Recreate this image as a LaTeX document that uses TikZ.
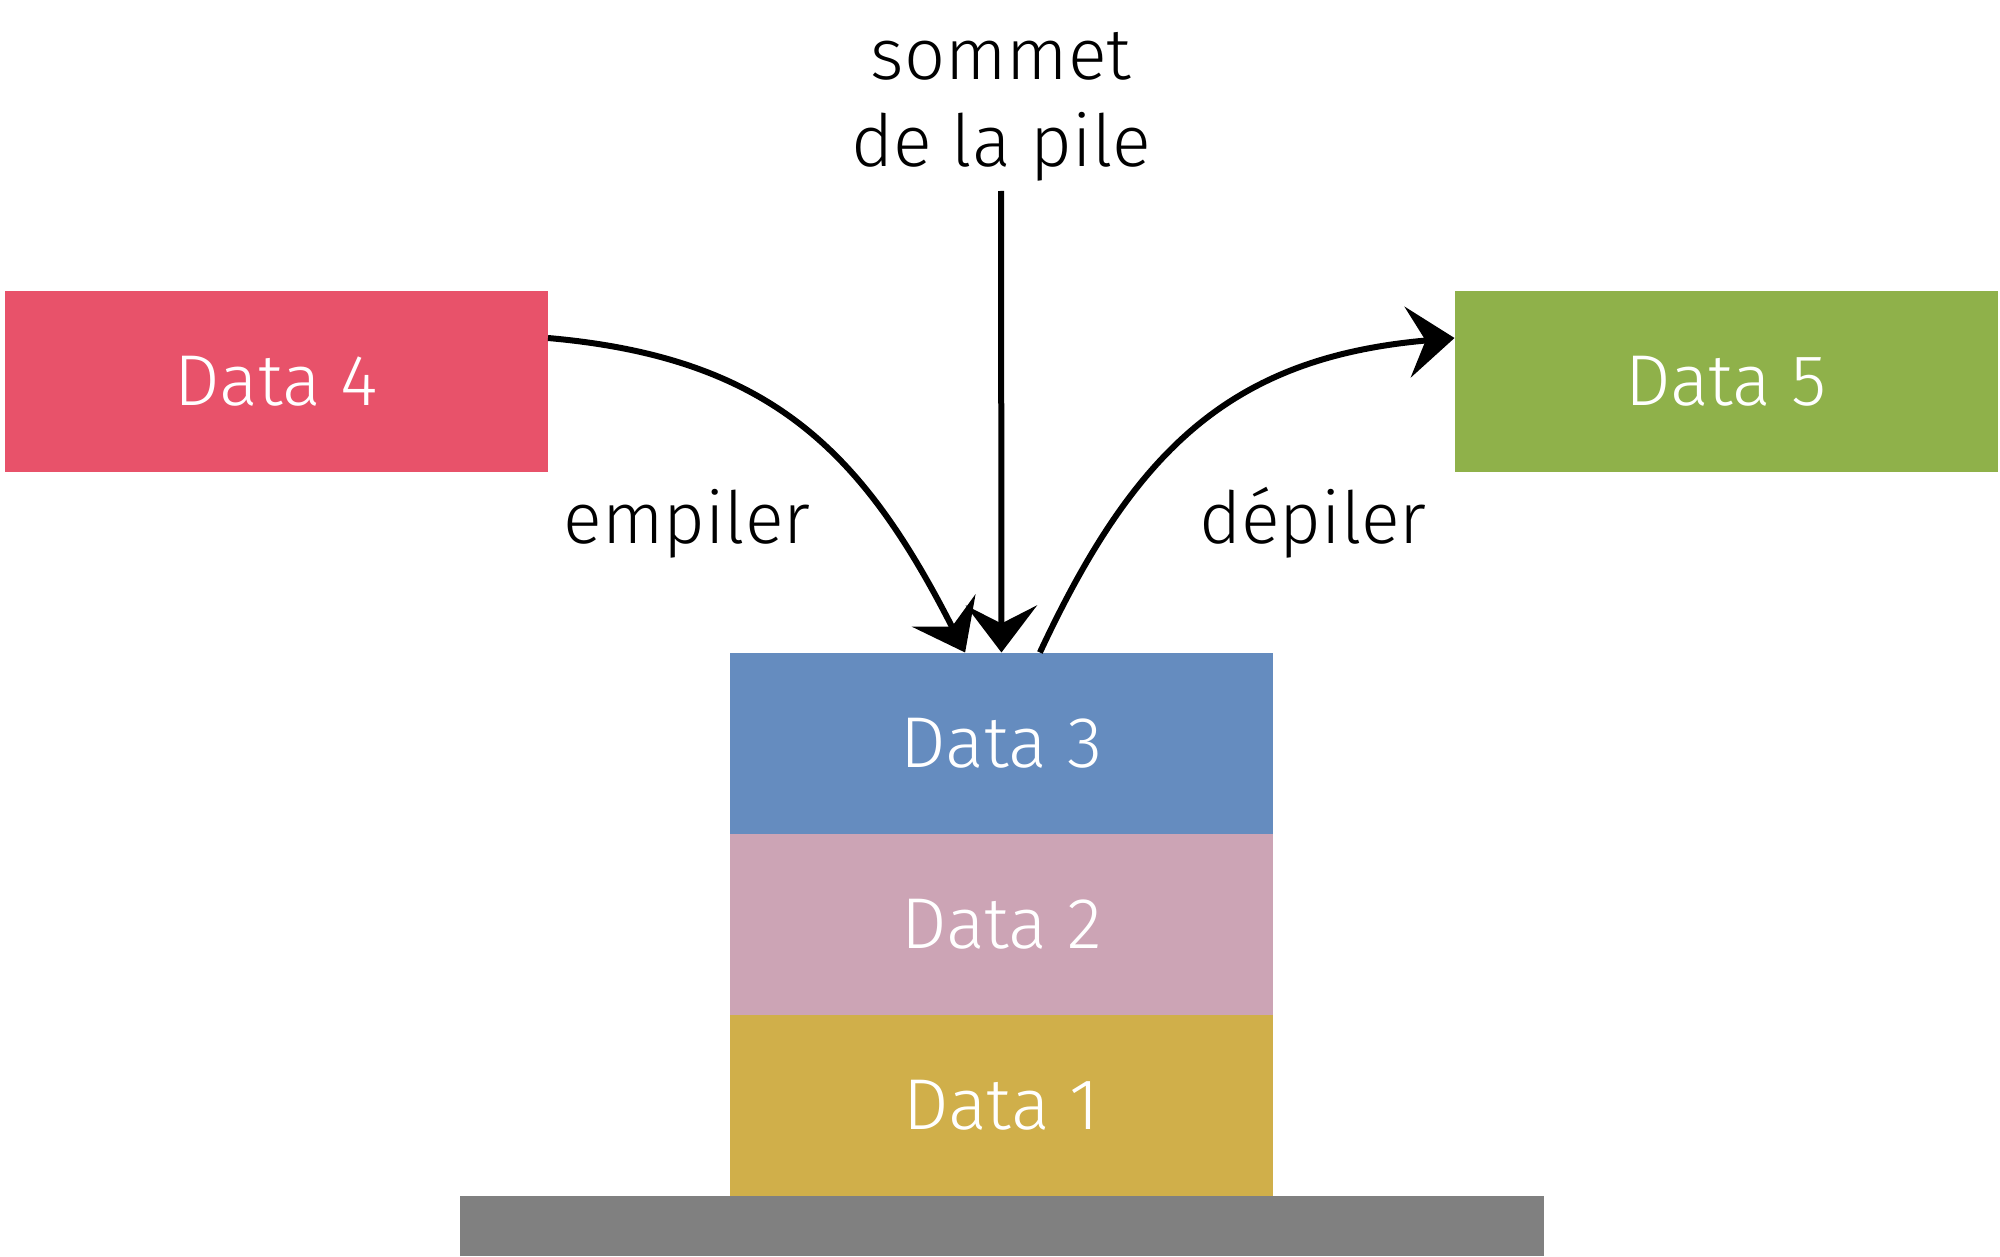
\documentclass[tikz,border=0pt]{standalone}
\usepackage{fontspec}
\IfFontExistsTF{Fira Sans Light}{\setmainfont{Fira Sans Light}}{\setmainfont{Fira Sans}}
\usetikzlibrary{arrows.meta,positioning}
\definecolor{data4}{HTML}{E8526A}
\definecolor{data5}{HTML}{8FB14A}
\definecolor{data3}{HTML}{658CBF}
\definecolor{data2}{HTML}{CCA4B5}
\definecolor{data1}{HTML}{D0AF4A}
\definecolor{socle}{HTML}{808080}
\tikzset{
  databox/.style={fill=#1,text=white,minimum width=135.75pt,minimum height=45.25pt,inner sep=0pt,outer sep=0pt,font=\fontsize{18}{21.75}\selectfont},
  lab/.style={font=\fontsize{18}{21.75}\selectfont,inner sep=0pt,align=center},
  arr/.style={-{Stealth[length=11.75pt,width=17.75pt,inset=4.5pt]},line width=1.5pt,draw=black},
}
\begin{document}
\begin{tikzpicture}[x=0.25pt,y=0.25pt]
  \useasboundingbox (0,0) rectangle (2000,1256);
  % la pile
  \node[databox=data1] (d1) at (1001.5,151) {Data 1};
  \node[databox=data2,above=0pt of d1] (d2) {Data 2};
  \node[databox=data3,above=0pt of d2] (d3) {Data 3};
  \node[fill=socle,minimum width=271pt,minimum height=15pt,inner sep=0pt,outer sep=0pt,below=0pt of d1] (socle) {};
  % elements hors pile
  \node[databox=data4] (d4) at (276.5,875) {Data 4};
  \node[databox=data5] (d5) at (1726,875) {Data 5};
  \node[lab,anchor=south] (sommet) at (1001,1074) {sommet\\de la pile};
  \node[lab,anchor=base] (emp) at (687,713) {empiler};
  \node[lab,anchor=base] (dep) at (1313,713) {dépiler};
  \draw[arr,shorten <=2.25pt] (sommet) -- (d3);
  \draw[arr] ([yshift=10.75pt]d4.east) to[out=-5,in=117,looseness=1.1] ([xshift=-9.1pt]d3.north);
  \draw[arr] ([xshift=9.6pt]d3.north) to[out=65,in=185,looseness=1.1] ([yshift=10.75pt]d5.west);
\end{tikzpicture}
\end{document}
